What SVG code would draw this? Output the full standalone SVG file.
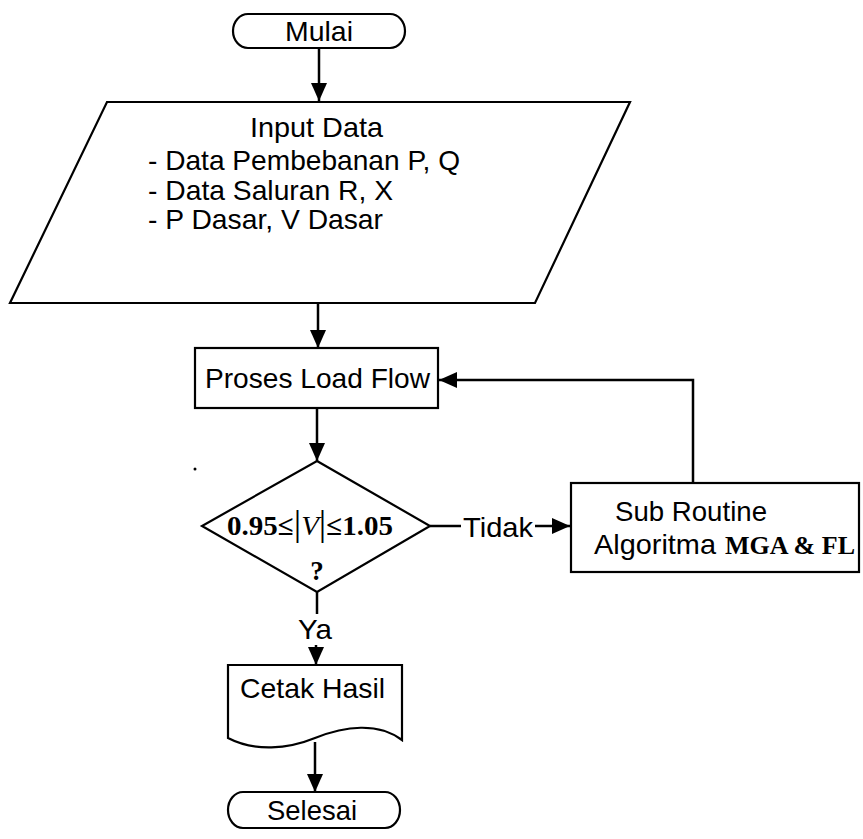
<svg xmlns="http://www.w3.org/2000/svg" width="863" height="839" viewBox="0 0 863 839">
<style>
.s{fill:#fff;stroke:#000;stroke-width:2.2}
.c{fill:none;stroke:#000;stroke-width:2.5}
.t{font-family:"Liberation Sans",Arial,sans-serif;font-size:28px;fill:#000}
.r{font-family:"Liberation Serif","Times New Roman",serif;font-weight:bold;fill:#000}
</style>
<defs>
<marker id="ah" markerUnits="userSpaceOnUse" markerWidth="20" markerHeight="18" refX="18" refY="8" orient="auto">
<path d="M0,0 L18,8 L0,16 Z" fill="#000"/>
</marker>
</defs>
<rect width="863" height="839" fill="#fff"/>
<g id="connectors">
<line class="c" x1="319" y1="47" x2="319" y2="101" marker-end="url(#ah)"/>
<line class="c" x1="318" y1="303" x2="318" y2="348" marker-end="url(#ah)"/>
<line class="c" x1="317" y1="408" x2="317" y2="461" marker-end="url(#ah)"/>
<polyline class="c" points="693,483 693,380 439,380" marker-end="url(#ah)"/>
<line class="c" x1="430" y1="526" x2="461" y2="526"/>
<line class="c" x1="535" y1="526" x2="570" y2="526" marker-end="url(#ah)"/>
<line class="c" x1="317" y1="592" x2="317" y2="614"/>
<line class="c" x1="316" y1="645" x2="316" y2="665" marker-end="url(#ah)"/>
<line class="c" x1="315" y1="742" x2="315" y2="792" marker-end="url(#ah)"/>
<text class="t" x="463" y="537" textLength="70" lengthAdjust="spacingAndGlyphs">Tidak</text>
<text class="t" x="298" y="639" textLength="34" lengthAdjust="spacingAndGlyphs">Ya</text>
</g>
<g id="mulai">
<rect class="s" x="233" y="14" width="172" height="34" rx="15" ry="17"/>
<text class="t" x="285" y="41" textLength="68" lengthAdjust="spacingAndGlyphs">Mulai</text>
</g>
<g id="input">
<polygon class="s" points="107,102 630,102 535,303 10,303"/>
<text class="t" x="250" y="137" textLength="133" lengthAdjust="spacingAndGlyphs">Input Data</text>
<text class="t" x="148" y="170" textLength="312" lengthAdjust="spacingAndGlyphs">- Data Pembebanan P, Q</text>
<text class="t" x="148" y="200" textLength="245" lengthAdjust="spacingAndGlyphs">- Data Saluran R, X</text>
<text class="t" x="148" y="229" textLength="235" lengthAdjust="spacingAndGlyphs">- P Dasar, V Dasar</text>
</g>
<g id="proses">
<rect class="s" x="195" y="348" width="243" height="60"/>
<text class="t" x="205" y="388" textLength="225" lengthAdjust="spacingAndGlyphs">Proses Load Flow</text>
</g>
<g id="decision">
<polygon class="s" points="317,461 430,526 317,592 202,526"/>
<text class="r" x="227" y="535" font-size="28" textLength="166" lengthAdjust="spacingAndGlyphs">0.95≤<tspan font-size="36" font-weight="normal">|</tspan><tspan font-style="italic" font-weight="normal">V</tspan><tspan font-size="36" font-weight="normal">|</tspan>≤1.05</text>
<text class="r" x="317" y="580" font-size="27" text-anchor="middle">?</text>
<circle cx="195" cy="469" r="1.5" fill="#000"/>
</g>
<g id="subroutine">
<rect class="s" x="571" y="483" width="288" height="89"/>
<text class="t" x="615" y="521" textLength="152" lengthAdjust="spacingAndGlyphs">Sub Routine</text>
<text class="t" x="594" y="554" textLength="122" lengthAdjust="spacingAndGlyphs">Algoritma</text>
<text class="r" x="725" y="554" font-size="26" textLength="130" lengthAdjust="spacingAndGlyphs">MGA &amp; FL</text>
</g>
<g id="cetak">
<path class="s" d="M228,665 H402 V740 C378,722 345,726 315,738 C288,749 255,752 228,738 Z"/>
<text class="t" x="240" y="698" textLength="145" lengthAdjust="spacingAndGlyphs">Cetak Hasil</text>
</g>
<g id="selesai">
<rect class="s" x="228" y="792" width="172" height="36" rx="15" ry="18"/>
<text class="t" x="267" y="820" textLength="90" lengthAdjust="spacingAndGlyphs">Selesai</text>
</g>
</svg>
